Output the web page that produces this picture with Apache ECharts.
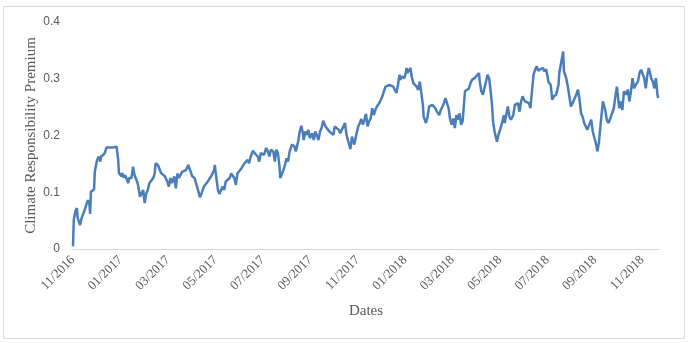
<!DOCTYPE html>
<html>
<head>
<meta charset="utf-8">
<script src="https://cdn.jsdelivr.net/npm/echarts@6/dist/echarts.min.js"></script>
<style>
  html, body { margin: 0; padding: 0; background: #fff; }
  #mybox { width: 688px; height: 343px; position: relative; }
  #frame { position: absolute; left: 3px; top: 6px; width: 680px; height: 331px; border: 1px solid #d9d9d9; pointer-events: none; }
</style>
</head>
<body>
<div id="mybox"></div>
<div id="frame"></div>
<script>
// days since 1 Nov 2016
var days = [
  0,1,3,5,6,9,11,13,15,17,19,21,22,23,24,27,28,30,31,33,35,36,39,41,43,47,51,56,58,59,
  61,62,63,65,67,69,71,72,75,77,79,81,83,86,88,90,92,94,96,98,100,103,105,106,109,111,113,118,
  121,123,125,127,130,132,134,136,138,140,142,145,148,150,153,156,158,161,163,165,
  168,170,173,175,178,181,182,184,186,188,190,192,194,196,198,201,203,205,207,209,
  211,213,216,218,220,222,224,226,228,231,233,235,237,239,241,243,245,
  248,250,252,254,257,259,261,263,265,266,268,270,272,274,276,278,281,284,286,289,
  291,293,295,296,298,300,302,304,307,309,311,313,315,317,319,321,324,326,329,331,
  334,336,338,341,343,346,349,351,354,356,358,361,363,366,368,370,
  372,374,376,378,380,382,384,386,388,390,393,395,397,399,401,403,406,408,411,413,
  415,417,419,420,422,425,427,428,429,431,433,435,437,439,441,443,445,447,449,450,
  453,455,457,459,461,463,465,467,470,472,474,476,478,480,482,484,486,488,490,492,494,496,
  498,500,503,505,508,510,512,514,516,518,521,522,524,526,527,530,532,534,536,538,
  539,541,544,546,548,550,553,554,556,558,560,562,565,567,569,571,573,575,577,580,
  582,585,587,589,591,593,595,597,600,603,605,607,609,610,613,615,617,620,
  623,624,626,629,630,633,635,637,639,641,643,645,648,650,652,654,656,658,660,662,
  665,667,669,671,673,675,677,680,683,685,687,689,691,694,696,698,699,701,703,705,
  707,710,712,714,716,718,720,722,725,727,729,731,733,735,737,739,742,744,746,748,750,751
];

var premium = [
  0.005,0.051,0.066,0.072,0.055,0.042,0.054,0.051,0.069,0.066,0.086,0.080,0.062,0.101,0.104,0.105,0.136,0.151,0.157,0.163,
  0.154,0.163,0.166,0.170,0.179,0.179,0.179,0.180,0.157,0.134,0.136,0.128,0.134,0.126,0.130,0.128,0.116,0.125,0.125,0.145,
  0.130,0.133,0.116,0.092,0.098,0.104,0.081,0.098,0.104,0.116,0.113,0.125,0.134,0.151,0.148,0.145,0.134,0.128,
  0.119,0.110,0.125,0.116,0.128,0.107,0.133,0.125,0.128,0.136,0.133,0.139,0.148,0.146,0.128,0.125,0.122,0.101,0.091,0.098,
  0.110,0.113,0.119,0.122,0.130,0.139,0.148,0.125,0.104,0.097,0.104,0.110,0.104,0.119,0.116,0.125,0.133,0.130,0.125,0.113,
  0.133,0.136,0.142,0.139,0.151,0.148,0.157,0.151,0.163,0.173,0.169,0.169,0.163,0.154,0.169,0.172,0.166,
  0.178,0.172,0.163,0.175,0.172,0.154,0.175,0.169,0.145,0.125,0.128,0.139,0.148,0.160,0.154,0.172,0.184,0.181,0.172,0.190,
  0.207,0.217,0.204,0.192,0.207,0.201,0.210,0.195,0.204,0.192,0.207,0.204,0.192,0.207,0.213,0.226,0.216,0.216,0.207,0.210,
  0.201,0.216,0.219,0.210,0.204,0.213,0.222,0.201,0.186,0.176,0.198,0.184,0.198,0.216,0.222,0.229,
  0.219,0.228,0.238,0.216,0.225,0.230,0.248,0.236,0.245,0.251,0.257,0.263,0.269,0.278,0.286,0.283,0.289,0.286,0.286,0.286,
  0.275,0.289,0.307,0.298,0.304,0.301,0.310,0.319,0.310,0.307,0.319,0.301,0.292,0.289,0.286,0.280,0.295,0.275,0.254,0.233,
  0.222,0.233,0.251,0.248,0.254,0.254,0.248,0.242,0.236,0.245,0.248,0.257,0.266,0.263,0.248,0.228,0.219,0.230,0.213,0.236,0.228,0.239,
  0.219,0.225,0.278,0.281,0.283,0.292,0.298,0.295,0.302,0.301,0.310,0.295,0.278,0.272,0.269,0.295,0.307,0.301,0.278,0.248,
  0.225,0.207,0.189,0.201,0.210,0.219,0.236,0.222,0.225,0.251,0.233,0.228,0.236,0.254,0.251,0.257,0.242,0.260,0.269,0.260,
  0.263,0.257,0.248,0.278,0.307,0.316,0.322,0.314,0.317,0.319,0.313,0.317,0.304,0.295,0.289,0.263,0.269,0.272,
  0.289,0.310,0.325,0.348,0.313,0.301,0.286,0.283,0.251,0.257,0.257,0.269,0.281,0.263,0.239,0.233,0.222,0.219,0.210,0.207,
  0.228,0.207,0.204,0.186,0.172,0.189,0.219,0.260,0.245,0.228,0.222,0.228,0.225,0.248,0.269,0.286,0.286,0.248,0.260,0.245,
  0.278,0.272,0.281,0.260,0.278,0.301,0.283,0.289,0.295,0.310,0.316,0.313,0.301,0.283,0.307,0.319,0.301,0.295,0.283,0.301,0.272,0.266
];

// x tick labels, one every two months
var tickLabels = ['11/2016','01/2017','03/2017','05/2017','07/2017','09/2017','11/2017',
  '01/2018','03/2018','05/2018','07/2018','09/2018','11/2018'];

var twoMonths = 60.875;
var seriesData = [];
for (var i = 0; i < days.length; i++) {
    seriesData.push([days[i], premium[i]]);
}

var mycharts = echarts.init(document.getElementById('mybox'));

var optionObj = {
    animation: false,
    grid: { left: 73, right: 29, top: 22, bottom: 94 },
    xAxis: {
        type: 'value',
        min: 0,
        max: 752,
        interval: twoMonths,
        name: 'Dates',
        nameLocation: 'middle',
        nameGap: 55,
        nameTextStyle: { fontFamily: 'Liberation Serif', fontSize: 15, color: '#595959' },
        axisLine: { lineStyle: { color: '#d9d9d9', width: 1 } },
        axisTick: { show: false },
        splitLine: { show: false },
        axisLabel: {
            rotate: 45,
            margin: 9,
            showMaxLabel: false,
            fontFamily: 'Liberation Serif',
            fontSize: 13,
            color: '#595959',
            formatter: function (v) {
                return tickLabels[Math.round(v / twoMonths)] || '';
            }
        }
    },
    yAxis: {
        type: 'value',
        min: 0,
        max: 0.4,
        interval: 0.1,
        name: 'Climate Responsibility Premium',
        nameLocation: 'middle',
        nameGap: 34,
        nameMoveOverlap: false,
        nameTextStyle: { fontFamily: 'Liberation Serif', fontSize: 15, color: '#595959' },
        axisLine: { show: false },
        axisTick: { show: false },
        splitLine: { show: false },
        axisLabel: {
            margin: 13,
            fontFamily: 'Liberation Sans',
            fontSize: 12,
            color: '#595959'
        }
    },
    series: [
        {
            name: 'Climate Responsibility Premium',
            type: 'line',
            data: seriesData,
            showSymbol: false,
            symbol: 'none',
            lineStyle: { color: '#4a7ebb', width: 2.5 }
        }
    ]
};

mycharts.setOption(optionObj);
</script>
</body>
</html>
